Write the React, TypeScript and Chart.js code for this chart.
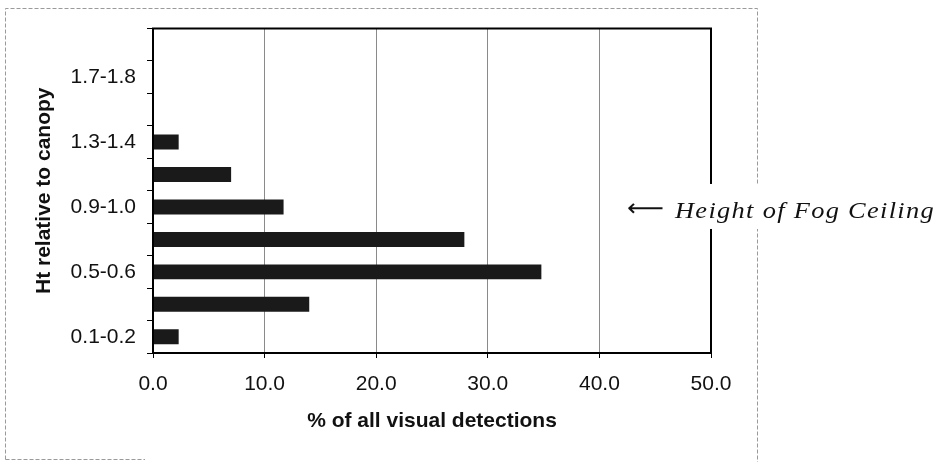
import React, { useEffect, useRef } from "react";
import { Chart, registerables } from "chart.js";

Chart.register(...registerables);

const categories = [
  "0.1-0.2",
  "0.3-0.4",
  "0.5-0.6",
  "0.7-0.8",
  "0.9-1.0",
  "1.1-1.2",
  "1.3-1.4",
  "1.5-1.6",
  "1.7-1.8",
  "1.9-2.0",
];
const detections = [2.3, 14.0, 34.8, 27.9, 11.7, 7.0, 2.3, 0, 0, 0];
const xTickMin = 0;
const xTickMax = 50;
const xTickStep = 10;
const fogCeilingCategory = "0.9-1.0";
const fogLabel = "Height of Fog Ceiling";
const arrowLabel = "\u27F5";
const xTitle = "% of all visual detections";
const yTitle = "Ht relative to canopy";

const SANS = "'Liberation Sans', Arial, sans-serif";
const SERIF = "'Liberation Serif', 'Times New Roman', serif";

const framePlugin = {
  id: "framePlugin",
  beforeDraw(chart: any) {
    const ctx = chart.ctx;
    ctx.save();
    ctx.strokeStyle = "#9a9a9a";
    ctx.lineWidth = 1;
    ctx.setLineDash([4, 2]);
    ctx.beginPath();
    ctx.moveTo(5.5, 459.5);
    ctx.lineTo(5.5, 8.5);
    ctx.lineTo(757.5, 8.5);
    ctx.lineTo(757.5, 462);
    ctx.moveTo(5.5, 459.5);
    ctx.lineTo(145, 459.5);
    ctx.stroke();
    ctx.restore();
  },
  afterDraw(chart: any) {
    const ctx = chart.ctx;
    const a = chart.chartArea;
    ctx.save();
    ctx.strokeStyle = "#000";
    ctx.lineWidth = 2;
    ctx.strokeRect(a.left, a.top, a.right - a.left, a.bottom - a.top);

    const yScale = chart.scales.y;
    const yPix = yScale.getPixelForValue(categories.indexOf(fogCeilingCategory));
    ctx.fillStyle = "#fff";
    ctx.fillRect(618, yPix - 23, 322, 45);

    ctx.fillStyle = "#111";
    ctx.textBaseline = "middle";
    ctx.textAlign = "left";
    // arrow
    ctx.font = `24px 'DejaVu Sans', sans-serif`;
    const aw = ctx.measureText(arrowLabel).width;
    ctx.save();
    ctx.translate(627, yPix + 3);
    ctx.scale(37 / aw, 1);
    ctx.fillText(arrowLabel, 0, 0);
    ctx.restore();
    // label
    ctx.textBaseline = "alphabetic";
    ctx.font = `italic 24px ${SERIF}`;
    try {
      (ctx as any).letterSpacing = "1.2px";
    } catch (e) {}
    const tw = ctx.measureText(fogLabel).width;
    ctx.save();
    ctx.translate(675, yPix + 11);
    ctx.scale(260 / tw, 1);
    ctx.fillText(fogLabel, 0, 0);
    ctx.restore();
    try {
      (ctx as any).letterSpacing = "0px";
    } catch (e) {}
    ctx.restore();
  },
};

export default function App() {
  const canvasRef = useRef<HTMLCanvasElement | null>(null);

  useEffect(() => {
    document.body.style.margin = "0";
    const canvas = canvasRef.current;
    if (!canvas) return;
    const chart = new Chart(canvas, {
      type: "bar",
      data: {
        labels: categories,
        datasets: [
          {
            data: detections,
            backgroundColor: "#1a1a1a",
            borderWidth: 0,
            categoryPercentage: 1,
            barPercentage: 0.46,
          },
        ],
      },
      options: {
        indexAxis: "y",
        animation: false,
        responsive: true,
        maintainAspectRatio: false,
        devicePixelRatio: 1,
        layout: { padding: { left: 0, top: 28.5, right: 229, bottom: 0 } },
        plugins: {
          legend: { display: false },
          tooltip: { enabled: false },
          title: { display: false },
        },
        scales: {
          x: {
            type: "linear",
            min: xTickMin,
            max: xTickMax,
            ticks: {
              stepSize: xTickStep,
              color: "#111",
              font: { family: SANS, size: 21 },
              padding: 14,
              callback: (v: any) => Number(v).toFixed(1),
            },
            grid: {
              color: "#8a8a8a",
              lineWidth: 1,
              tickColor: "#000",
              tickLength: 5,
              drawOnChartArea: true,
            },
            border: { display: true, color: "#000", width: 2 },
            title: {
              display: true,
              text: xTitle,
              color: "#111",
              font: { family: SANS, size: 21, weight: "bold" },
              padding: { top: 0, bottom: 28 },
            },
            afterFit: (scale: any) => {
              scale.height = 109;
            },
          },
          y: {
            type: "category",
            reverse: true,
            offset: true,
            ticks: {
              autoSkip: false,
              color: "#111",
              font: { family: SANS, size: 21 },
              padding: 11,
              callback: (_v: any, i: number) => (i % 2 === 0 ? categories[i] : ""),
            },
            grid: {
              offset: true,
              drawOnChartArea: false,
              drawTicks: true,
              tickLength: 6,
              tickColor: "#000",
              color: "#000",
            },
            border: { display: true, color: "#000", width: 2 },
            title: {
              display: true,
              text: yTitle,
              color: "#111",
              font: { family: SANS, size: 21, weight: "bold" },
              padding: { top: 32, bottom: 0 },
            },
            afterFit: (scale: any) => {
              scale.width = 153;
            },
          },
        },
      },
      plugins: [framePlugin],
    });
    return () => chart.destroy();
  }, []);

  return (
    <div style={{ position: "relative", width: 940, height: 462, background: "#fff" }}>
      <canvas ref={canvasRef} />
    </div>
  );
}
